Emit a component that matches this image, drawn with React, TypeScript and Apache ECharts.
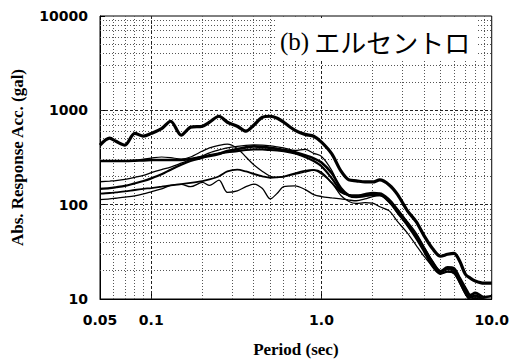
import React, { useEffect, useRef } from "react";
import * as echarts from "echarts";

// Periods (sec) shared by all spectra
const periods = [0.05, 0.057, 0.062, 0.07, 0.08, 0.09, 0.1, 0.115, 0.13, 0.15, 0.17, 0.2, 0.22, 0.25, 0.28, 0.32, 0.36, 0.4, 0.45, 0.5, 0.55, 0.6, 0.7, 0.8, 0.9, 1.0, 1.15, 1.3, 1.45, 1.6, 1.8, 2.0, 2.2, 2.5, 2.8, 3.2, 3.6, 4.0, 4.5, 5.0, 5.5, 6.0, 6.5, 7.0, 7.5, 8.0, 9.0, 10.0];

// Absolute response acceleration (gal)
const accA = [428, 507, 470, 428, 570, 532, 570, 640, 766, 545, 660, 679, 748, 865, 748, 679, 601, 695, 845, 865, 824, 748, 614, 556, 532, 460, 345, 228, 183, 179, 174, 174, 183, 162, 128, 86, 66, 47, 34, 28.4, 29.8, 30.5, 25, 18.3, 16.6, 15.5, 14.7, 14.7];
const accB = [290, 290, 290, 290, 292, 295, 297, 298, 298, 297, 305, 320, 328, 345, 370, 388, 405, 415, 410, 400, 390, 380, 360, 335, 310, 280, 215, 150, 125, 121, 124, 128, 128, 107, 84, 62, 47, 34.4, 24.5, 19.7, 21.7, 21.2, 16.6, 13.1, 11, 11.6, 10.5, 10.75];
const accC = [290, 290, 290, 292, 296, 305, 312, 320, 315, 305, 320, 370, 400, 425, 438, 395, 320, 265, 225, 200, 195, 197, 211, 222, 232, 211, 170, 125, 108, 103, 105, 104, 95, 86, 66, 50, 37, 28.4, 22, 18.5, 19.5, 18.5, 14.5, 11.2, 9.7, 9.3, 8.6, 8.3];
const accD = [175, 178, 180, 185, 195, 205, 218, 235, 250, 275, 300, 330, 355, 380, 400, 415, 425, 430, 428, 420, 410, 400, 375, 385, 350, 325, 230, 145, 128, 126, 128, 132, 133, 115, 90, 66, 50, 36, 25, 20, 21, 20, 16, 12.3, 10.4, 10.8, 9.8, 9.6];
const accE = [147, 150, 153, 158, 168, 178, 190, 210, 235, 265, 290, 315, 335, 350, 360, 370, 380, 385, 385, 380, 375, 370, 350, 320, 290, 255, 190, 140, 125, 122, 124, 127, 126, 108, 82, 60, 44, 32, 22, 18.5, 19.5, 19, 15, 11.5, 9.8, 10.2, 9.2, 9];
const accF = [131, 133, 135, 138, 143, 147, 150, 155, 160, 165, 170, 178, 185, 200, 225, 235, 225, 212, 200, 193, 195, 198, 215, 228, 233, 220, 170, 135, 126, 125, 130, 134, 130, 112, 88, 64, 47, 34, 24, 19.5, 21, 20.5, 16, 12.5, 10.5, 11, 10, 9.8];
const accG = [113, 115, 117, 120, 124, 130, 137, 147, 160, 164, 155, 172, 160, 182, 135, 140, 155, 165, 148, 115, 132, 155, 158, 145, 128, 122, 118, 115, 112, 110, 115, 122, 125, 110, 86, 62, 45, 33, 23, 19, 20.5, 19.5, 15.5, 12, 10.2, 10.6, 9.6, 9.4];

// Grid line positions (log decades)
const gridXMinor = [0.06, 0.07, 0.08, 0.09, 0.2, 0.3, 0.4, 0.5, 0.6, 0.7, 0.8, 0.9, 2, 3, 4, 5, 6, 7, 8, 9];
const gridXMajor = [0.1, 1];
const gridYMinor = [20, 30, 40, 50, 60, 70, 80, 90, 200, 300, 400, 500, 600, 700, 800, 900, 2000, 3000, 4000, 5000, 6000, 7000, 8000, 9000];
const gridYMajor = [100, 1000];

const titleMark = "(b)";
const titleName = "エルセントロ";

const curves = [
  { name: "A", vals: accA, width: 3.2 },
  { name: "B", vals: accB, width: 2.6 },
  { name: "C", vals: accC, width: 1.2 },
  { name: "D", vals: accD, width: 1.3 },
  { name: "E", vals: accE, width: 2.2 },
  { name: "F", vals: accF, width: 1.8 },
  { name: "G", vals: accG, width: 1.3 },
];

export default function App() {
  const ref = useRef<HTMLDivElement>(null);
  useEffect(() => {
    if (!ref.current) return;
    const chart = echarts.init(ref.current, null, { renderer: "svg" });
    const minorStyle = { color: "#555", width: 1, type: [1, 2] as any };
    const majorStyle = { color: "#222", width: 1, type: [3, 2] as any };
    const markData: any[] = [
      ...gridXMinor.map((v) => ({ xAxis: v, lineStyle: minorStyle })),
      ...gridXMajor.map((v) => ({ xAxis: v, lineStyle: majorStyle })),
      ...gridYMinor.map((v) => ({ yAxis: v, lineStyle: minorStyle })),
      ...gridYMajor.map((v) => ({ yAxis: v, lineStyle: majorStyle })),
    ];
    const labelFont = { fontFamily: "DejaVu Sans", fontWeight: "bold" as const, fontSize: 14, color: "#000" };
    const nameFont = { fontFamily: "Liberation Serif", fontWeight: "bold" as const, fontSize: 17, color: "#000" };
    chart.setOption({
      animation: false,
      backgroundColor: "#fff",
      title: {
        text: `{p|${titleMark}} {k|${titleName}}`,
        left: 275,
        top: 18,
        padding: [10, 6, 6, 5],
        backgroundColor: "#fff",
        textStyle: {
          fontWeight: "normal",
          rich: {
            p: { fontFamily: "Liberation Serif", fontWeight: "normal", fontSize: 25, color: "#000", lineHeight: 26 },
            k: { fontFamily: "Noto Sans CJK JP", fontWeight: "normal", fontSize: 26, color: "#000", lineHeight: 26 },
          },
        },
      },
      grid: { left: 100, top: 16, width: 395, height: 285, show: true, borderColor: "#000", borderWidth: 1 },
      xAxis: {
        type: "log",
        logBase: 10,
        min: 0.05,
        max: 10,
        axisLine: { show: true, lineStyle: { color: "#000", width: 1 } },
        axisTick: { show: true, inside: true, length: 5, lineStyle: { color: "#000" } },
        splitLine: { show: false },
        axisLabel: {
          ...labelFont,
          margin: 14,
          formatter: (v: number) => {
            const r = Math.round(v * 1000) / 1000;
            return r >= 1 ? r.toFixed(1) : String(r);
          },
        },
        name: "Period (sec)",
        nameLocation: "middle",
        nameGap: 42,
        nameTextStyle: nameFont,
      },
      yAxis: {
        type: "log",
        logBase: 10,
        min: 10,
        max: 10000,
        axisLine: { show: true, lineStyle: { color: "#000", width: 1 } },
        axisTick: { show: true, inside: true, length: 5, lineStyle: { color: "#000" } },
        splitLine: { show: false },
        axisLabel: {
          ...labelFont,
          margin: 12,
          formatter: (v: number) => String(Math.round(v)),
        },
        name: "Abs. Response Acc. (gal)",
        nameLocation: "middle",
        nameRotate: 90,
        nameGap: 74,
        nameTextStyle: nameFont,
      },
      series: curves.map((c, idx) => ({
        name: c.name,
        type: "line",
        data: periods.map((t, i) => [t, c.vals[i]]),
        showSymbol: false,
        symbol: "none",
        smooth: 0.3,
        clip: true,
        silent: true,
        lineStyle: { color: "#000", width: c.width },
        z: 3,
        ...(idx === 0
          ? {
              markLine: {
                silent: true,
                symbol: ["none", "none"],
                label: { show: false },
                z: 1,
                animation: false,
                data: markData,
              },
            }
          : {}),
      })),
    });
    return () => chart.dispose();
  }, []);
  return <div ref={ref} style={{ position: "fixed", left: 0, top: 0, width: 512, height: 363 }} />;
}
